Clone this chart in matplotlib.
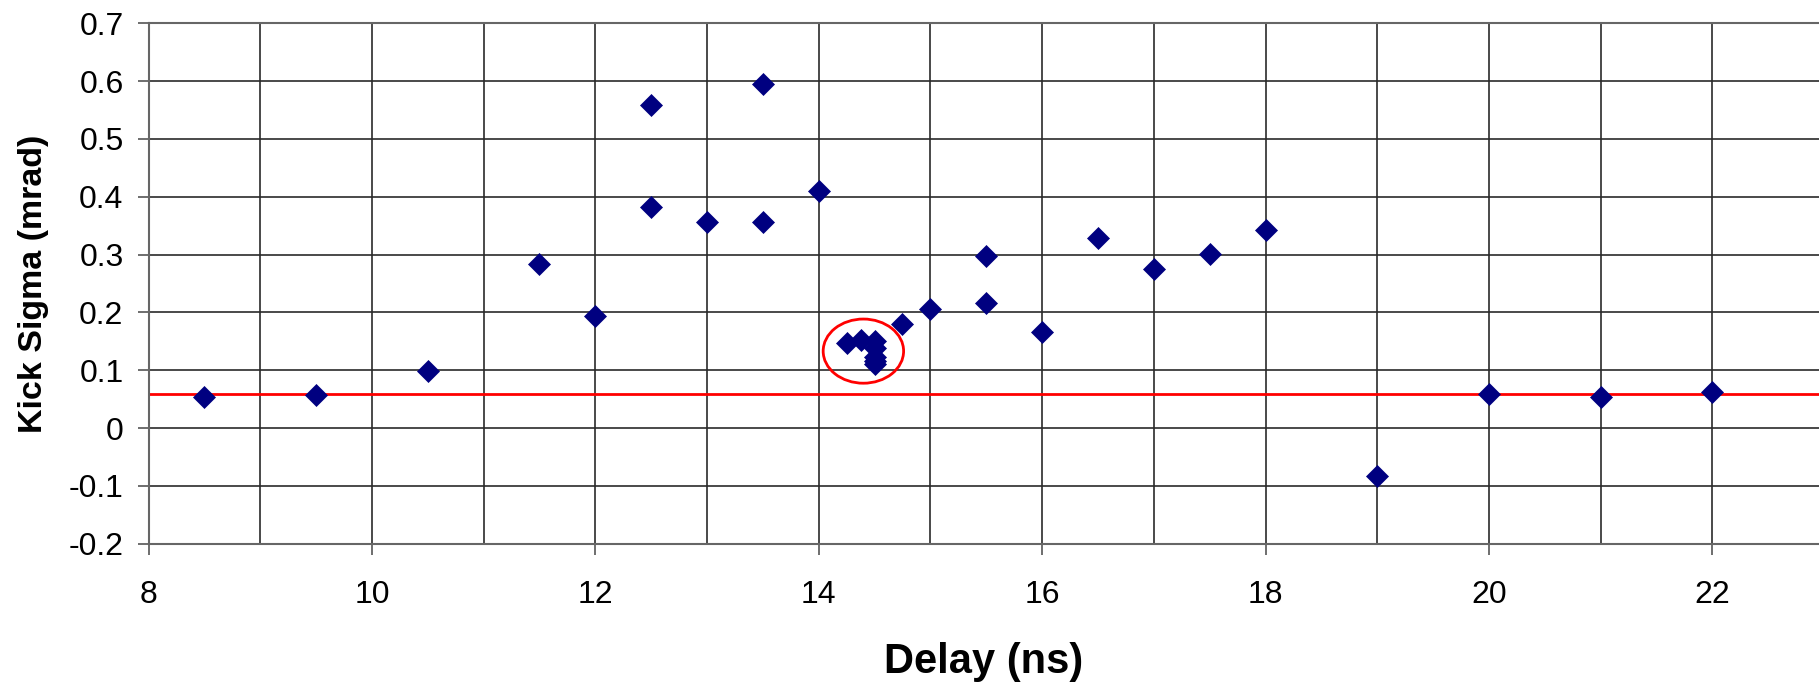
import matplotlib
matplotlib.use("Agg")
import matplotlib.pyplot as plt
from matplotlib.patches import Ellipse

plt.rcParams['font.family'] = ['Liberation Sans', 'DejaVu Sans']

delay = [8.5, 9.5, 10.5, 11.5, 12.0, 12.5, 12.5, 13.0, 13.5, 13.5, 14.0,
         14.25, 14.375, 14.5, 14.5, 14.5, 14.5, 14.5, 14.75, 15.0,
         15.5, 15.5, 16.0, 16.5, 17.0, 17.5, 18.0, 19.0, 20.0, 21.0, 22.0]
kick_sigma = [0.054, 0.057, 0.099, 0.283, 0.194, 0.558, 0.383, 0.356, 0.595, 0.356, 0.410,
              0.147, 0.152, 0.151, 0.139, 0.123, 0.116, 0.110, 0.180, 0.206,
              0.297, 0.216, 0.166, 0.329, 0.275, 0.301, 0.342, -0.083, 0.058, 0.054, 0.062]
baseline = 0.058
circle_center = (14.40, 0.133)
circle_size = (0.72, 0.111)

W, H = 1819, 683
fig = plt.figure(figsize=(W / 100, H / 100), dpi=100)
ax = fig.add_axes([148.5 / W, 1 - 543.6 / H, (W - 148.5) / W, (543.6 - 23.4) / H])

ax.set_xlim(8, 22.955)
ax.set_ylim(-0.2, 0.7)
ax.set_xticks([8, 10, 12, 14, 16, 18, 20, 22])
ax.set_xticks(range(9, 23, 2), minor=True)
ax.set_yticks([-0.2, -0.1, 0, 0.1, 0.2, 0.3, 0.4, 0.5, 0.6, 0.7])
ax.set_yticklabels(['-0.2', '-0.1', '0', '0.1', '0.2', '0.3', '0.4', '0.5', '0.6', '0.7'])

ax.grid(True, which='both', color='#2a2a2a', linewidth=1.2)
ax.set_axisbelow(True)
ax.tick_params(axis='both', which='major', direction='out', length=8, width=1.2,
               color='#555555', labelsize=23)
ax.tick_params(axis='x', which='minor', length=0)
ax.tick_params(axis='x', pad=18)
ax.tick_params(axis='y', pad=10)
for s in ax.spines.values():
    s.set_color('#666666')
    s.set_linewidth(1.5)
ax.spines['right'].set_visible(False)

ax.axhline(baseline, color='#ff0000', linewidth=2, zorder=2)
ax.plot(delay, kick_sigma, linestyle='none', marker='D', markersize=11.5,
        markerfacecolor='#000080', markeredgecolor='#000080', markeredgewidth=0.5, zorder=3)
ax.add_patch(Ellipse(circle_center, circle_size[0], circle_size[1], fill=False,
                     edgecolor='#ff0000', linewidth=2, zorder=4))

ax.set_xlabel('Delay (ns)', fontsize=30, fontweight='bold', labelpad=23)
ax.set_ylabel('Kick Sigma (mrad)', fontsize=24.5, fontweight='bold', labelpad=14)

fig.savefig('out.png', dpi=100)
